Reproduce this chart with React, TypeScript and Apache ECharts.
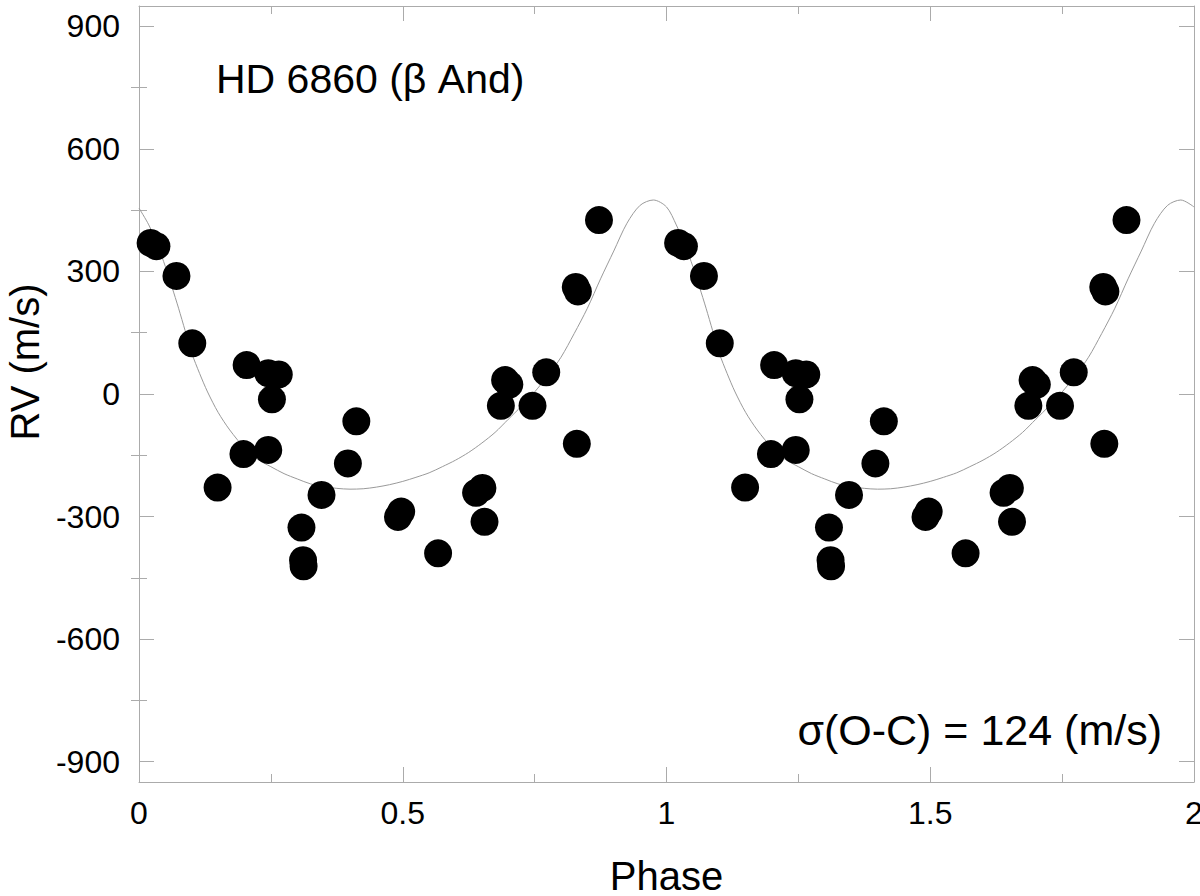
import React, { useEffect, useRef } from "react";
import * as echarts from "echarts";

// Phase-folded observations (phase 0..1), plotted twice (phase and phase + 1)
const obsPhase = [
  0.022, 0.033, 0.071, 0.101, 0.149, 0.198, 0.204, 0.245, 0.245, 0.265, 0.252,
  0.308, 0.311, 0.312, 0.346, 0.396, 0.412, 0.491, 0.497, 0.567, 0.639, 0.651,
  0.655, 0.686, 0.694, 0.702, 0.746, 0.772, 0.830, 0.828, 0.832, 0.872,
];
const obsRV = [
  370, 362, 289, 124, -229, -147, 71, -137, 51, 48, -13,
  -327, -407, -422, -247, -170, -67, -301, -288, -390, -242, -230,
  -313, -29, 34, 23, -29, 53, -122, 262, 251, 426,
];

// Model curve (one cycle)
const curvePhase = [
  0.0, 0.0186, 0.035, 0.05, 0.0625, 0.075, 0.0875, 0.1, 0.115, 0.13, 0.15,
  0.172, 0.2, 0.225, 0.25, 0.275, 0.3, 0.325, 0.35, 0.375, 0.4, 0.425, 0.45,
  0.475, 0.5, 0.525, 0.55, 0.575, 0.6, 0.625, 0.65, 0.675, 0.7, 0.725, 0.75,
  0.775, 0.8, 0.825, 0.85, 0.875, 0.9, 0.925, 0.95, 0.975, 1.0,
];
const curveRV = [
  455, 414, 365, 312, 262, 210, 155, 100, 50, 5, -45,
  -88, -132, -160, -178, -195, -208, -220, -227, -231, -233, -232, -228,
  -222, -214, -204, -193, -178, -162, -143, -120, -94, -62, -30, 5,
  45, 90, 148, 210, 282, 350, 418, 462, 475, 458,
];

const cycles = [0, 1];
const xTickLabels = ["0", "0.5", "1", "1.5", "2"];
const yMajorTicks = [-900, -600, -300, 0, 300, 600, 900];
const yMinorTicks = [-750, -450, -150, 150, 450, 750];

const titleText = "HD 6860 (\u03b2 And)";
const sigmaText = "\u03c3(O-C) = 124 (m/s)";
const xName = "Phase";
const yName = "RV (m/s)";

export default function App() {
  const ref = useRef<HTMLDivElement>(null);
  useEffect(() => {
    const chart = echarts.init(ref.current!, null, { renderer: "svg" });
    const font = "'Liberation Sans', Arial, sans-serif";
    const lineStyle = { color: "#ababab", width: 1 };

    const scatterData: number[][] = [];
    cycles.forEach((c) => {
      obsPhase.forEach((p, i) => scatterData.push([p + c, obsRV[i]]));
    });
    const curveData: number[][] = [];
    cycles.forEach((c) => {
      curvePhase.forEach((p, i) => {
        if (c > 0 && i === 0) return;
        curveData.push([p + c, curveRV[i]]);
      });
    });

    const xBase = {
      type: "value",
      min: 0,
      max: 2,
      interval: 0.5,
      splitLine: { show: false },
      axisLine: { show: true, onZero: false, lineStyle },
      axisTick: { show: true, inside: true, length: 15, lineStyle },
      minorTick: { show: true, splitNumber: 2, length: 8, lineStyle },
    };
    const yBase = {
      type: "value",
      min: -950,
      max: 950,
      splitLine: { show: false },
    };

    chart.setOption({
      animation: false,
      backgroundColor: "#ffffff",
      grid: {
        left: 139,
        right: 6,
        top: 6,
        bottom: 114,
        containLabel: false,
        outerBoundsMode: "none",
      },
      xAxis: [
        {
          ...xBase,
          position: "bottom",
          name: xName,
          nameLocation: "middle",
          nameGap: 74,
          nameTextStyle: { fontSize: 40, color: "#000", fontFamily: font },
          axisLabel: {
            show: true,
            fontSize: 32,
            color: "#000",
            fontFamily: font,
            margin: 15,
            formatter: (v: number) => xTickLabels[Math.round(v * 2)] ?? String(v),
          },
        },
        {
          ...xBase,
          position: "top",
          axisLabel: { show: false },
        },
      ],
      yAxis: [
        {
          ...yBase,
          position: "left",
          axisLine: { show: true, onZero: false, lineStyle },
          axisTick: { show: true, inside: true, length: 15, lineStyle, customValues: yMajorTicks },
          axisLabel: {
            show: true,
            fontSize: 32,
            color: "#000",
            fontFamily: font,
            margin: 19,
            customValues: yMajorTicks,
          },
        },
        {
          ...yBase,
          position: "left",
          axisLine: { show: false },
          axisTick: { show: true, inside: true, length: 8, lineStyle, customValues: yMinorTicks },
          axisLabel: { show: false },
        },
        {
          ...yBase,
          position: "right",
          axisLine: { show: true, onZero: false, lineStyle },
          axisTick: { show: true, inside: true, length: 15, lineStyle, customValues: yMajorTicks },
          axisLabel: { show: false },
        },
        {
          ...yBase,
          position: "right",
          axisLine: { show: false },
          axisTick: { show: true, inside: true, length: 8, lineStyle, customValues: yMinorTicks },
          axisLabel: { show: false },
        },
      ],
      series: [
        {
          type: "line",
          data: curveData,
          xAxisIndex: 0,
          yAxisIndex: 0,
          smooth: 0.3,
          showSymbol: false,
          symbol: "none",
          lineStyle: { color: "#9a9a9a", width: 1 },
          z: 1,
          silent: true,
        },
        {
          type: "scatter",
          data: scatterData,
          xAxisIndex: 0,
          yAxisIndex: 0,
          symbol: "circle",
          symbolSize: 28,
          itemStyle: { color: "#000000", opacity: 1 },
          z: 2,
        },
      ],
      graphic: [
        {
          type: "text",
          x: 216,
          y: 79,
          style: {
            text: titleText,
            fontSize: 41,
            fontFamily: font,
            fill: "#000",
            textAlign: "left",
            textVerticalAlign: "middle",
          },
        },
        {
          type: "text",
          x: 1162,
          y: 730,
          style: {
            text: sigmaText,
            fontSize: 43,
            fontFamily: font,
            fill: "#000",
            textAlign: "right",
            textVerticalAlign: "middle",
          },
        },
        {
          type: "text",
          x: 25,
          y: 362,
          rotation: Math.PI / 2,
          style: {
            text: yName,
            fontSize: 40,
            fontFamily: font,
            fill: "#000",
            textAlign: "center",
            textVerticalAlign: "middle",
          },
        },
      ],
    });
    return () => chart.dispose();
  }, []);
  return (
    <div
      ref={ref}
      style={{ position: "fixed", left: 0, top: 0, width: 1200, height: 896, background: "#fff" }}
    />
  );
}
